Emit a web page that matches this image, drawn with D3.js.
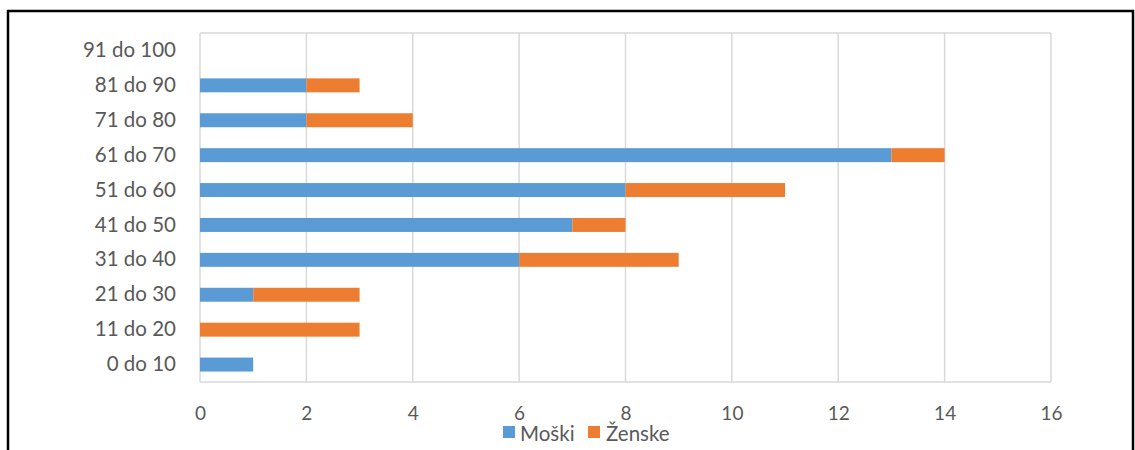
<!DOCTYPE html>
<html><head><meta charset="utf-8">
<script src="https://cdn.jsdelivr.net/npm/d3@7"></script>
<style>body{margin:0;background:#fff}svg{display:block}</style>
</head><body>
<svg id="c" width="1135" height="450"></svg>
<script>
const categories = ["0 do 10","11 do 20","21 do 30","31 do 40","41 do 50","51 do 60","61 do 70","71 do 80","81 do 90","91 do 100"];
const moski  = [1,0,1,6,7,8,13,2,2,0];
const zenske = [0,3,2,3,1,3,1,2,1,0];
const seriesNames = ["Moški","Ženske"];
const colors = ["#5B9BD5","#ED7D31"];
const xTicks = [0,2,4,6,8,10,12,14,16];

const svg = d3.select("#c");
const font = "Lato, 'Open Sans', sans-serif";
const txt = "#595959";

// outer frame
svg.append("path").attr("d","M8,450 V11 H1133 V450").attr("fill","none").attr("stroke","#000").attr("stroke-width",2.5);

const L=200,R=1051,T=33,B=382;
const x = d3.scaleLinear().domain([0,16]).range([L,R]);
const y = d3.scaleBand().domain(categories.slice().reverse()).range([T,B]).paddingInner(0.6).paddingOuter(0.3);

// grid
svg.append("g").selectAll("line").data(xTicks).join("line")
  .attr("x1",d=>x(d)).attr("x2",d=>x(d)).attr("y1",T).attr("y2",B)
  .attr("stroke","#d9d9d9").attr("stroke-width",1.5);
svg.append("line").attr("x1",L).attr("x2",R).attr("y1",T).attr("y2",T).attr("stroke","#d9d9d9").attr("stroke-width",1.5);
svg.append("line").attr("x1",L).attr("x2",R).attr("y1",B).attr("y2",B).attr("stroke","#d9d9d9").attr("stroke-width",1.5);

const data = categories.map((c,i)=>({cat:c,"Moški":moski[i],"Ženske":zenske[i]}));
const stacked = d3.stack().keys(seriesNames)(data);
svg.append("g").selectAll("g").data(stacked).join("g").attr("fill",(d,i)=>colors[i])
  .selectAll("rect").data(d=>d).join("rect")
  .attr("x",d=>x(d[0])).attr("width",d=>x(d[1])-x(d[0]))
  .attr("y",d=>y(d.data.cat)).attr("height",y.bandwidth());

// axes
const xa = svg.append("g").attr("transform",`translate(0,${B})`).call(d3.axisBottom(x).tickValues(xTicks).tickSize(0).tickPadding(25));
xa.select(".domain").remove();
xa.selectAll("text").attr("fill",txt).style("font-family",font).style("font-size","19px");

const ya = svg.append("g").attr("transform",`translate(${L},0)`).call(d3.axisLeft(y).tickSize(0).tickPadding(24));
ya.select(".domain").remove();
ya.selectAll("text").attr("fill",txt).style("font-family",font).style("font-size","20.5px");

// legend
const lg = svg.append("g").attr("transform","translate(503,426)");
const items = [{n:seriesNames[0],c:colors[0],x:0,tx:17},{n:seriesNames[1],c:colors[1],x:85,tx:103}];
items.forEach(it=>{
  lg.append("rect").attr("x",it.x).attr("y",0).attr("width",12).attr("height",12).attr("fill",it.c);
  lg.append("text").attr("x",it.tx).attr("y",15).text(it.n).attr("fill",txt).style("font-family",font).style("font-size","20.5px");
});
</script>
</body></html>
